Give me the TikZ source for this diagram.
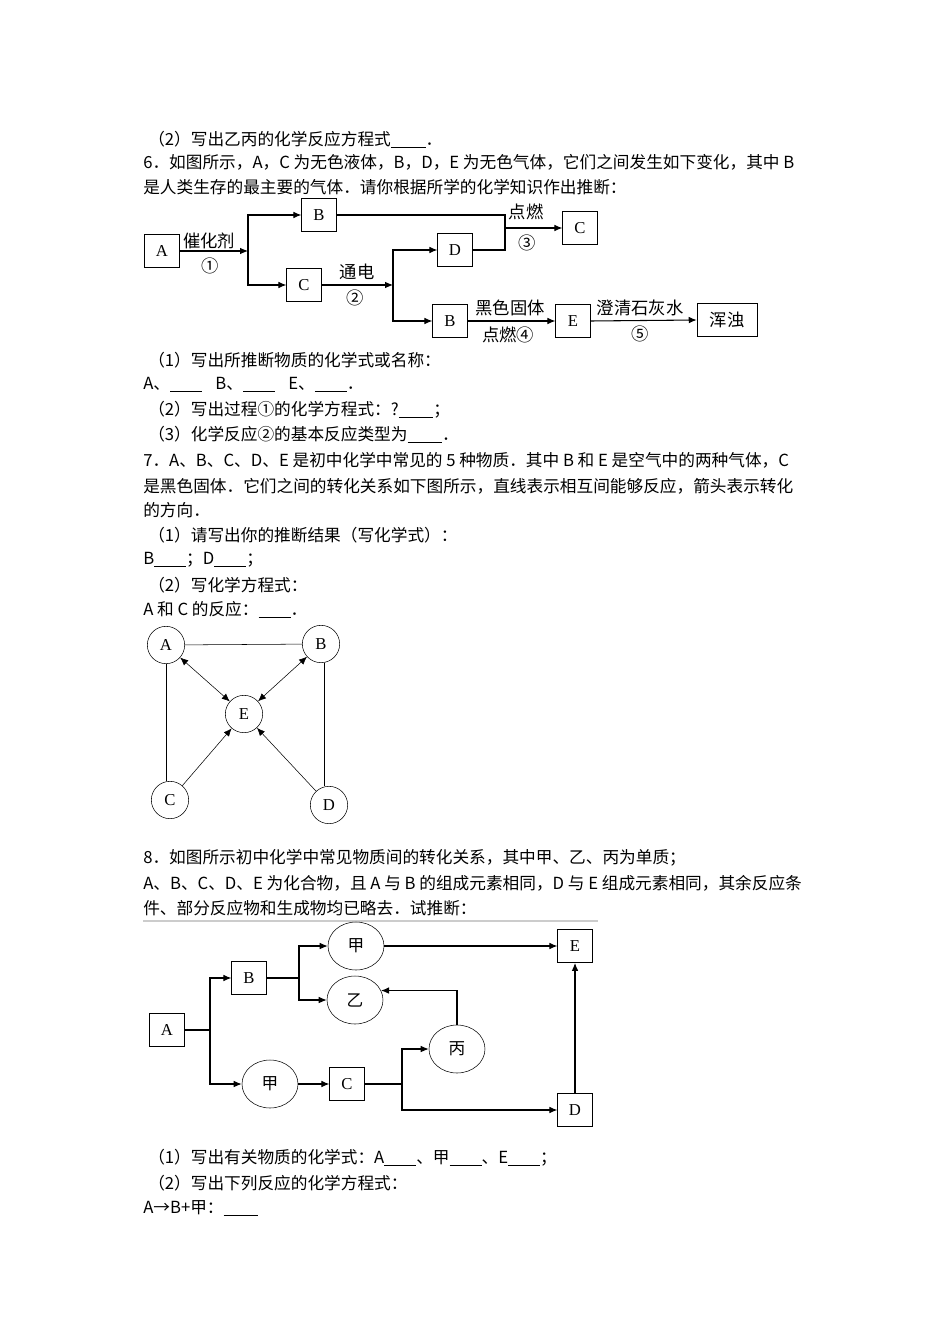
\documentclass[tikz,border=0pt]{standalone}
\usepackage{fontspec}
\setmainfont{Noto Sans CJK SC}
\newfontfamily\serifl{Liberation Serif}
\usetikzlibrary{arrows.meta,shapes.geometric}
\begin{document}
\begin{tikzpicture}[x=0.75pt,y=-0.75pt,font=\fontsize{12.5pt}{14pt}\selectfont,
 tl/.style={anchor=west,inner sep=0},
 bx/.style={draw,minimum width=26pt,minimum height=25pt,inner sep=0,font=\serifl\fontsize{12.5pt}{13pt}\selectfont},
 el/.style={draw,ellipse,minimum width=42pt,minimum height=36pt,inner sep=0},
 cc/.style={draw,circle,minimum size=28pt,inner sep=0,font=\serifl\fontsize{12.5pt}{13pt}\selectfont},
 ar/.style={-{Latex[length=6pt,width=5pt]},line width=0.8pt},
 ln/.style={line width=0.8pt},
 lb/.style={inner sep=0,font=\fontsize{13pt}{14pt}\selectfont}]
\useasboundingbox (0,0) rectangle (950,1344);
\fill[white] (0,0) rectangle (950,1344);
% text
\node[tl] (t1) at (148,140) {（2）写出乙丙的化学反应方程式\underline{\hspace{26pt}}．};
\node[tl] (t2) at (143,162) {6．如图所示，A，C 为无色液体，B，D，E 为无色气体，它们之间发生如下变化，其中 B};
\node[tl] (t3) at (143,187) {是人类生存的最主要的气体．请你根据所学的化学知识作出推断：};
\node[tl] (t4) at (148,360) {（1）写出所推断物质的化学式或名称：};
\node[tl] (t5) at (143,385) {A、\underline{\hspace{24pt}}\hspace{10pt}B、\underline{\hspace{24pt}}\hspace{10pt}E、\underline{\hspace{24pt}}．};
\node[tl] (t6) at (148,410) {（2）写出过程①的化学方程式：?\underline{\hspace{26pt}}；};
\node[tl] (t7) at (148,435) {（3）化学反应②的基本反应类型为\underline{\hspace{26pt}}．};
\node[tl] (t8) at (143,460) {7．A、B、C、D、E 是初中化学中常见的 5 种物质．其中 B 和 E 是空气中的两种气体，C};
\node[tl] (t9) at (143,486) {是黑色固体．它们之间的转化关系如下图所示，直线表示相互间能够反应，箭头表示转化};
\node[tl] (t10) at (143,510) {的方向．};
\node[tl] (t11) at (148,535) {（1）请写出你的推断结果（写化学式）：};
\node[tl] (t12) at (143,560) {B\underline{\hspace{24pt}}；D\underline{\hspace{24pt}}；};
\node[tl] (t13) at (148,585) {（2）写化学方程式：};
\node[tl] (t14) at (143,610) {A 和 C 的反应：\underline{\hspace{24pt}}．};
\node[tl] (t15) at (143,858) {8．如图所示初中化学中常见物质间的转化关系，其中甲、乙、丙为单质；};
\node[tl] (t16) at (143,883) {A、B、C、D、E 为化合物，且 A 与 B 的组成元素相同，D 与 E 组成元素相同，其余反应条};
\node[tl] (t17) at (143,908) {件、部分反应物和生成物均已略去．试推断：};
\node[tl] (t18) at (148,1158) {（1）写出有关物质的化学式：A\underline{\hspace{24pt}}、甲\underline{\hspace{24pt}}、E\underline{\hspace{24pt}}；};
\node[tl] (t19) at (148,1183) {（2）写出下列反应的化学方程式：};
\node[tl] (t20) at (143,1208) {A→B+甲：\underline{\hspace{26pt}}};
% diagram 1
\node[bx] (A1) at (162,251) {A};
\node[bx] (B1) at (319,215) {B};
\node[bx] (C1) at (304,285) {C};
\node[bx] (D1) at (455,250) {D};
\node[bx] (C2) at (580,228) {C};
\node[bx] (B2) at (450,321) {B};
\node[bx] (E1) at (573,321) {E};
\node[draw,minimum width=45pt,minimum height=25pt,inner sep=0,font=\fontsize{13pt}{14pt}\selectfont] (H) at (727,320) {浑浊};
\coordinate (j1) at (248,251);
\coordinate (j2) at (393,285);
\coordinate (j3) at (505,228);
\draw[ar] (A1.east) -- (j1);
\draw[ar] (j1) |- (B1.west);
\draw[ar] (j1) |- (C1.west);
\draw[ar] (C1.east) -- (j2);
\draw[ar] (j2) |- (D1.west);
\draw[ar] (j2) |- (B2.west);
\draw[ln] (B1.east) -| (j3);
\draw[ln] (D1.east) -| (j3);
\draw[ar] (j3) -- (C2.west);
\draw[ar] (B2.east) -- (E1.west);
\draw[ar] (E1.east) -- (H.west);
\node[lb] (l1) at (209,241) {催化剂};
\node[lb] (l2) at (210,266) {①};
\node[lb] (l3) at (357,272) {通电};
\node[lb] (l4) at (355,298) {②};
\node[lb] (l5) at (526,212) {点燃};
\node[lb] (l6) at (527,243) {③};
\node[lb] (l7) at (510,308) {黑色固体};
\node[lb] (l8) at (508,335) {点燃④};
\node[lb] (l9) at (640,308) {澄清石灰水};
\node[lb] (l10) at (640,334) {⑤};
% diagram 2
\node[cc] (A2) at (166,645) {A};
\node[cc] (B3) at (321,644) {B};
\node[cc] (E2) at (244,714) {E};
\node[cc] (C3) at (170,800) {C};
\node[cc] (D2) at (329,805) {D};
\draw (A2) -- (B3);
\draw (A2) -- (A2|-C3.north);
\draw (B3.south) ++(3,0) -- (324,786);
\draw[{Latex[length=6pt,width=5pt]}-{Latex[length=6pt,width=5pt]}] (A2) -- (E2);
\draw[{Latex[length=6pt,width=5pt]}-{Latex[length=6pt,width=5pt]}] (B3) -- (E2);
\draw[-{Latex[length=6pt,width=5pt]}] (C3) -- (E2);
\draw[-{Latex[length=6pt,width=5pt]}] (D2) -- (E2);
% diagram 3
\draw[gray!40,line width=0.8pt] (143,921) -- (598,921);
\node[bx] (A3) at (167,1030) {A};
\node[bx] (B4) at (249,978) {B};
\node[el] (J1) at (356,946) {甲};
\node[el] (Y) at (355,1000) {乙};
\node[bx] (E3) at (575,946) {E};
\node[el] (Bi) at (457,1049) {丙};
\node[el] (J2) at (270,1084) {甲};
\node[bx] (C4) at (347,1084) {C};
\node[bx] (D3) at (575,1110) {D};
\coordinate (k1) at (210,1030);
\coordinate (k2) at (299,978);
\coordinate (k3) at (402,1084);
\draw[ln] (A3.east) -- (k1);
\draw[ar] (k1) |- (B4.west);
\draw[ar] (k1) |- (J2.west);
\draw[ln] (B4.east) -- (k2);
\draw[ar] (k2) |- (J1.west);
\draw[ar] (k2) |- (Y.west);
\draw[ar] (J1.east) -- (E3.west);
\draw[ar] (Bi.north) |- (Y.20);
\draw[ar] (J2.east) -- (C4.west);
\draw[ln] (C4.east) -- (k3);
\draw[ar] (k3) |- (Bi.west);
\draw[ar] (k3) |- (D3.west);
\draw[ar] (D3.north) -- (E3.south);
\end{tikzpicture}
\end{document}
